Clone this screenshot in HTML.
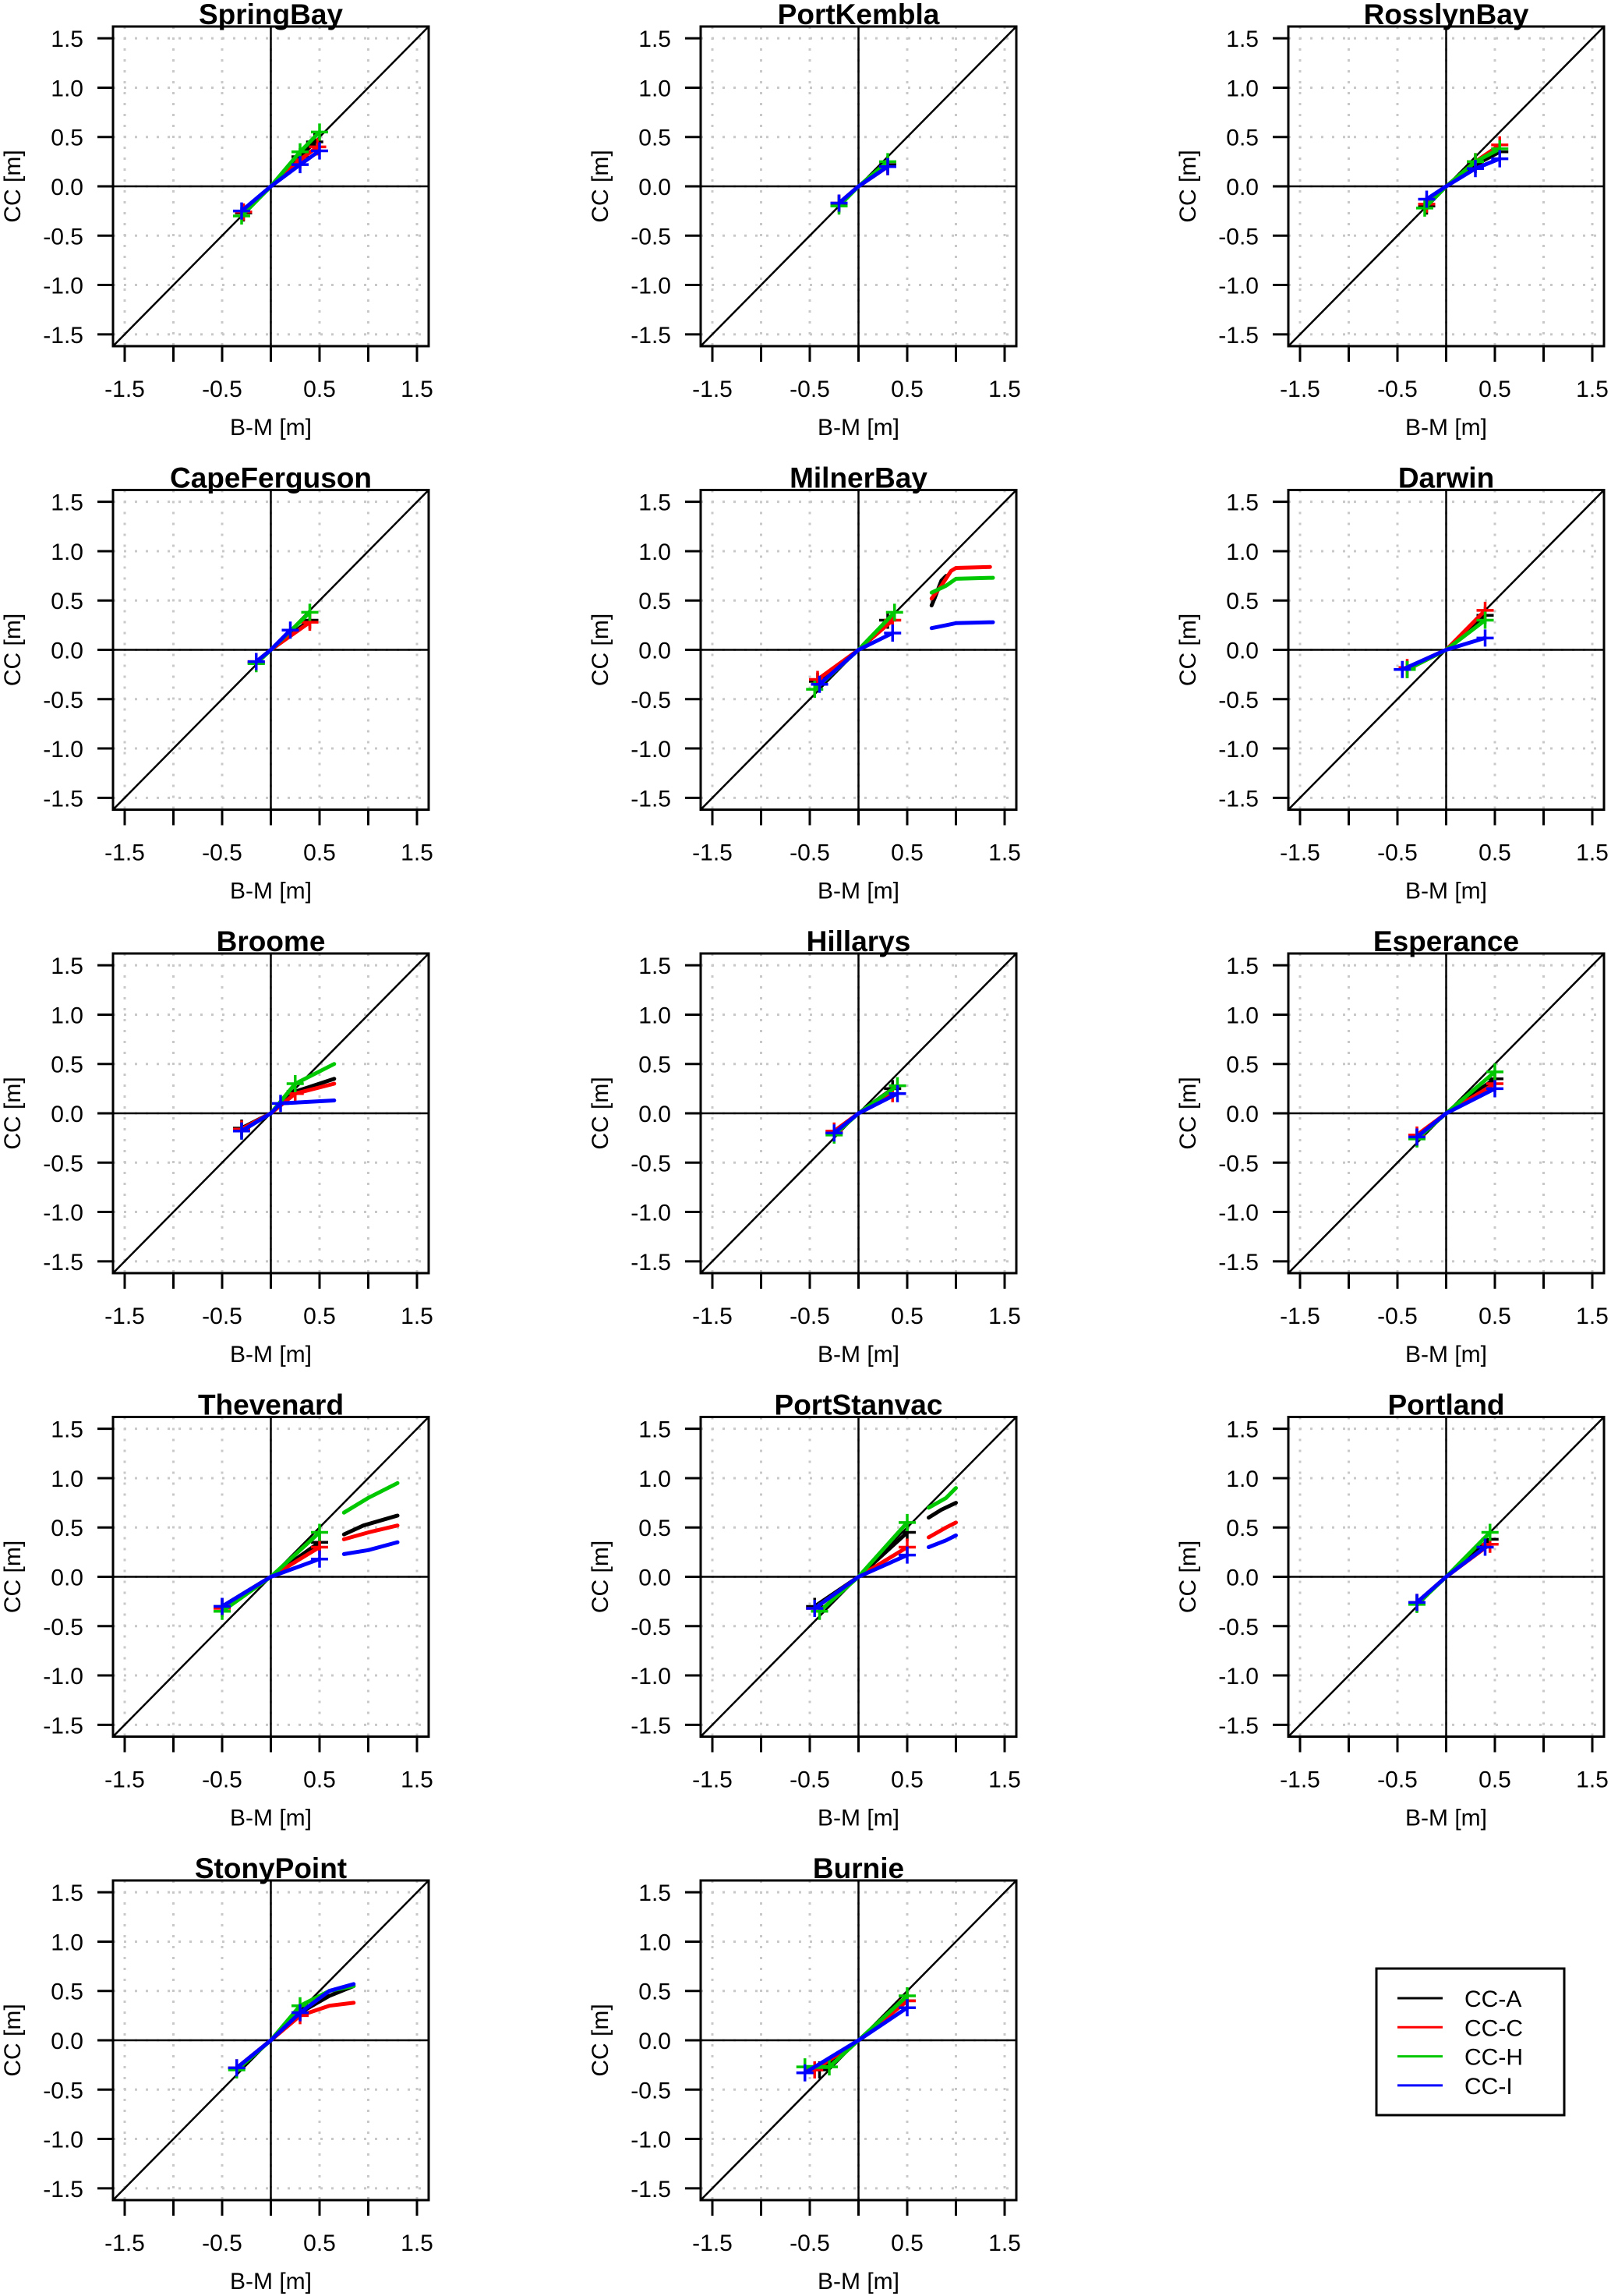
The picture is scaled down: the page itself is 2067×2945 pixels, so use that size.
<!DOCTYPE html>
<html><head><meta charset="utf-8"><style>
html,body{margin:0;padding:0;background:#fff;}
svg{display:block;font-family:"Liberation Sans",Arial,sans-serif;}
</style></head><body>
<svg id="chart" width="2067" height="2945" viewBox="0 0 2067 2945" xmlns="http://www.w3.org/2000/svg"></svg>
<script>
const panelNames = ["SpringBay","PortKembla","RosslynBay","CapeFerguson","MilnerBay","Darwin","Broome","Hillarys","Esperance","Thevenard","PortStanvac","Portland","StonyPoint","Burnie"];
const tickValues = [-1.5,-1,-0.5,0,0.5,1,1.5];
const xTickLabels = ["-1.5","","-0.5","","0.5","","1.5"];
const yTickLabels = ["-1.5","-1.0","-0.5","0.0","0.5","1.0","1.5"];
const seriesNames = ["CC-A","CC-C","CC-H","CC-I"];
const seriesColors = ["#000000","#ff0000","#00c800","#0000ff"];
// per panel x/y lists for each series (null breaks the trace)
const ccA_x = [[-0.28,0,0.3,0.45],[-0.2,0,0.3],[-0.2,0,0.3,0.55],[-0.15,0,0.4],[-0.42,0,0.3,null,0.75,0.78,0.85,0.9],[-0.4,0,0.4],[-0.3,0,0.25,0.65],[-0.25,0,0.35],[-0.3,0,0.5],[-0.5,0,0.5,null,0.75,0.95,1.3],[-0.45,0,0.5,null,0.72,0.85,1.0],[-0.3,0,0.45],[-0.35,0,0.3,0.6,0.85],[-0.4,0,0.5]];
const ccA_y = [[-0.27,0,0.3,0.45],[-0.18,0,0.22],[-0.2,0,0.22,0.35],[-0.13,0,0.3],[-0.32,0,0.3,null,0.45,0.52,0.7,0.75],[-0.2,0,0.35],[-0.15,0,0.22,0.35],[-0.2,0,0.25],[-0.25,0,0.35],[-0.3,0,0.35,null,0.43,0.52,0.62],[-0.3,0,0.45,null,0.6,0.68,0.75],[-0.27,0,0.38],[-0.28,0,0.28,0.45,0.55],[-0.3,0,0.4]];
const ccC_x = [[-0.28,0,0.3,0.48],[-0.2,0,0.3],[-0.2,0,0.3,0.55],[-0.15,0,0.4],[-0.42,0,0.35,null,0.75,0.85,0.95,1.0,1.35],[-0.4,0,0.4],[-0.3,0,0.25,0.65],[-0.25,0,0.35],[-0.3,0,0.5],[-0.5,0,0.5,null,0.75,1.0,1.3],[-0.45,0,0.5,null,0.72,0.9,1.0],[-0.3,0,0.45],[-0.35,0,0.3,0.6,0.85],[-0.45,0,0.5]];
const ccC_y = [[-0.26,0,0.27,0.4],[-0.17,0,0.2],[-0.18,0,0.25,0.42],[-0.12,0,0.28],[-0.3,0,0.3,null,0.52,0.65,0.8,0.83,0.84],[-0.18,0,0.4],[-0.16,0,0.2,0.3],[-0.18,0,0.2],[-0.22,0,0.3],[-0.32,0,0.3,null,0.38,0.45,0.52],[-0.32,0,0.3,null,0.4,0.5,0.55],[-0.26,0,0.33],[-0.28,0,0.25,0.35,0.38],[-0.3,0,0.4]];
const ccH_x = [[-0.3,0,0.3,0.5],[-0.2,0,0.3],[-0.22,0,0.3,0.55],[-0.15,0,0.4],[-0.45,0,0.37,null,0.75,0.9,1.0,1.38],[-0.4,0,0.4],[-0.3,0,0.25,0.65],[-0.25,0,0.4],[-0.3,0,0.5],[-0.5,0,0.5,null,0.75,1.0,1.3],[-0.4,0,0.5,null,0.72,0.9,1.0],[-0.3,0,0.45],[-0.35,0,0.3,0.6,0.85],[-0.55,-0.3,0,0.5]];
const ccH_y = [[-0.3,0,0.35,0.55],[-0.2,0,0.25],[-0.22,0,0.25,0.38],[-0.14,0,0.38],[-0.4,0,0.38,null,0.58,0.65,0.72,0.73],[-0.2,0,0.3],[-0.18,0,0.3,0.5],[-0.22,0,0.28],[-0.26,0,0.42],[-0.35,0,0.45,null,0.65,0.8,0.95],[-0.35,0,0.55,null,0.7,0.8,0.9],[-0.28,0,0.45],[-0.3,0,0.35,0.5,0.55],[-0.27,-0.27,0,0.45]];
const ccI_x = [[-0.3,0,0.3,0.5],[-0.2,0,0.3],[-0.2,0,0.3,0.55],[-0.15,0,0.2],[-0.4,0,0.35,null,0.75,0.9,1.0,1.38],[-0.45,0,0.4],[-0.3,0,0.1,0.65],[-0.25,0,0.4],[-0.3,0,0.5],[-0.5,0,0.5,null,0.75,1.0,1.3],[-0.45,0,0.5,null,0.72,0.9,1.0],[-0.3,0,0.4],[-0.35,0,0.3,0.6,0.85],[-0.55,0,0.5]];
const ccI_y = [[-0.25,0,0.22,0.36],[-0.17,0,0.2],[-0.13,0,0.18,0.28],[-0.12,0,0.2],[-0.35,0,0.17,null,0.22,0.25,0.27,0.28],[-0.2,0,0.12],[-0.18,0,0.1,0.13],[-0.2,0,0.2],[-0.24,0,0.25],[-0.3,0,0.18,null,0.23,0.27,0.35],[-0.32,0,0.22,null,0.3,0.37,0.42],[-0.26,0,0.3],[-0.28,0,0.28,0.5,0.57],[-0.33,0,0.33]];
const allX = [ccA_x, ccC_x, ccH_x, ccI_x];
const allY = [ccA_y, ccC_y, ccH_y, ccI_y];

const NS = "http://www.w3.org/2000/svg";
const svg = document.getElementById("chart");
const W = 405, H = 410, LO = -1.62, HI = 1.62;
function mk(tag, attrs, parent){const e=document.createElementNS(NS,tag);for(const k in attrs)e.setAttribute(k,attrs[k]);(parent||svg).appendChild(e);return e;}

panelNames.forEach((name, p) => {
  const c = p % 3, r = Math.floor(p / 3);
  const L = 145 + c * 754, T = 34 + r * 594.5;
  const sx = v => L + (v - LO) / (HI - LO) * W;
  const sy = v => T + (HI - v) / (HI - LO) * H;
  const g = mk("g", {});
  
  
  tickValues.forEach(v => {
    const gv = mk("line", {x1:sx(v),x2:sx(v),y1:T,y2:T+H,stroke:"#c8c8c8","stroke-width":3,"stroke-dasharray":"3 11"}, g);
    
    
    const gh = mk("line", {x1:L,x2:L+W,y1:sy(v),y2:sy(v),stroke:"#c8c8c8","stroke-width":3,"stroke-dasharray":"3 11"}, g);
    
    
  });
  mk("line", {x1:sx(0),x2:sx(0),y1:T,y2:T+H,stroke:"#000","stroke-width":2.5}, g);
  mk("line", {x1:L,x2:L+W,y1:sy(0),y2:sy(0),stroke:"#000","stroke-width":2.5}, g);
  const diag = mk("line", {x1:sx(LO),y1:sy(LO),x2:sx(HI),y2:sy(HI),stroke:"#000","stroke-width":2.5}, g);
  
  
  for (let s = 0; s < 4; s++) {
    const xs = allX[s][p], ys = allY[s][p];
    let d = "", pen = false;
    for (let i = 0; i < xs.length; i++) {
      if (xs[i] === null) { pen = false; continue; }
      d += (pen ? "L" : "M") + sx(xs[i]).toFixed(1) + " " + sy(ys[i]).toFixed(1) + " ";
      pen = true;
    }
    const path = mk("path", {d:d, fill:"none", stroke:seriesColors[s], "stroke-width":5, "stroke-linecap":"round", "stroke-linejoin":"round"}, g);
    
    
    for (let i = 0; i < xs.length; i++) {
      if (xs[i] === null || xs[i] === 0 || xs[i] > 0.55) continue;
      const px = sx(xs[i]), py = sy(ys[i]);
      const m = mk("path", {d:`M${px-11} ${py}H${px+11}M${px} ${py-11}V${py+11}`, stroke:seriesColors[s], "stroke-width":3.5, fill:"none"}, g);
      
      
    }
  }
  const box = mk("rect", {x:L,y:T,width:W,height:H,fill:"none",stroke:"#000","stroke-width":3}, g);
  
  
  tickValues.forEach((v, i) => {
    mk("line", {x1:sx(v),x2:sx(v),y1:T+H,y2:T+H+20,stroke:"#000","stroke-width":3}, g);
    mk("line", {x1:L-20,x2:L,y1:sy(v),y2:sy(v),stroke:"#000","stroke-width":3}, g);
    if (xTickLabels[i]) {
      const t = mk("text", {x:sx(v), y:T+H+65, "text-anchor":"middle", "font-size":30}, g);
      t.textContent = xTickLabels[i];
      
      
    }
    const ty = mk("text", {x:L-38, y:sy(v)+11, "text-anchor":"end", "font-size":30}, g);
    ty.textContent = yTickLabels[i];
    
    
  });
  const title = mk("text", {x:L+W/2, y:T-3, "text-anchor":"middle", "font-size":37, "font-weight":"bold"}, g);
  title.textContent = name;
  
  
  const xl = mk("text", {x:L+W/2, y:T+H+114, "text-anchor":"middle", "font-size":30}, g);
  xl.textContent = "B-M [m]";
  
  
  const ylx = L - 119, yly = T + H/2;
  const yl = mk("text", {x:ylx, y:yly, "text-anchor":"middle", "font-size":30, transform:`rotate(-90 ${ylx} ${yly})`}, g);
  yl.textContent = "CC [m]";
  
  
});

const lg = mk("g", {});


mk("rect", {x:1766, y:2525, width:241, height:188, fill:"#fff", stroke:"#000", "stroke-width":3}, lg);
seriesNames.forEach((n, i) => {
  const y = 2563 + i * 37.3;
  const ln = mk("line", {x1:1793, x2:1851, y1:y, y2:y, stroke:seriesColors[i], "stroke-width":3}, lg);
  
  
  const t = mk("text", {x:1879, y:y+11, "font-size":30}, lg);
  t.textContent = n;
  
  
});
</script>
</body></html>
